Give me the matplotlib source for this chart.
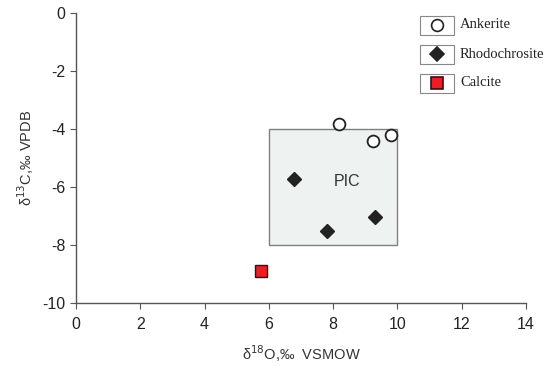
import matplotlib
matplotlib.use("Agg")
import matplotlib.pyplot as plt
from matplotlib.patches import Rectangle

ankerite_x = [8.17, 9.23, 9.81]
ankerite_y = [-3.83, -4.40, -4.20]
rhodo_x = [6.79, 7.81, 9.30]
rhodo_y = [-5.72, -7.50, -7.02]
calcite_x = [5.77]
calcite_y = [-8.89]
pic_box = (6.0, -8.0, 10.0, -4.0)  # x0, y0, x1, y1
xticks = [0, 2, 4, 6, 8, 10, 12, 14]
yticks = [0, -2, -4, -6, -8, -10]

plt.rcParams['font.family'] = ['Liberation Sans', 'DejaVu Sans']
fig = plt.figure(figsize=(5.5, 3.74), dpi=100)
ax = fig.add_axes([76/550, 1-303/374, 450/550, 290/374])

ax.add_patch(Rectangle((pic_box[0], pic_box[1]), pic_box[2]-pic_box[0], pic_box[3]-pic_box[1],
                       facecolor='#eef2f1', edgecolor='#808080', lw=1.0, zorder=1))
ax.text(8.42, -5.82, 'PIC', fontsize=11.5, ha='center', va='center', color='#333333', zorder=2)

ax.plot(ankerite_x, ankerite_y, 'o', ms=8.5, mfc='white', mec='#222222', mew=1.3, ls='none', zorder=3, clip_on=False)
ax.plot(rhodo_x, rhodo_y, 'D', ms=7, mfc='#222222', mec='#222222', ls='none', zorder=3)
ax.plot(calcite_x, calcite_y, 's', ms=8.5, mfc='#ee1c24', mec='#3a1010', mew=1.0, ls='none', zorder=3)

ax.set_xlim(0, 14)
ax.set_ylim(-10, 0)
ax.set_xticks(xticks)
ax.set_yticks(yticks)
ax.set_xticklabels([str(v) for v in xticks])
ax.set_yticklabels([str(v) for v in yticks])
for s in ['top', 'right']:
    ax.spines[s].set_visible(False)
for s in ['left', 'bottom']:
    ax.spines[s].set_color('#555555')
    ax.spines[s].set_linewidth(1.0)
ax.tick_params(direction='out', length=4, width=0.8, color='#555555', labelsize=11.5, labelcolor='#222222')
ax.tick_params(axis='x', pad=6)

ax.set_xlabel('δ$^{18}$O,‰  VSMOW', fontsize=10.5, color='#333333', labelpad=8)
ax.set_ylabel('δ$^{13}$C,‰ VPDB', fontsize=10.5, color='#333333', labelpad=5)

# manual legend
leg_items = [('Ankerite', 'o', 'white', '#222222'),
             ('Rhodochrosite', 'D', '#222222', '#222222'),
             ('Calcite', 's', '#ee1c24', '#3a1010')]
ys = [25, 54, 83]
for (lab, m, fc, ec), yp in zip(leg_items, ys):
    fy = 1 - yp/374
    fig.patches.append(Rectangle((420/550, fy - 9.5/374), 34/550, 19/374, transform=fig.transFigure,
                                 facecolor='white', edgecolor='#888888', lw=0.8))
    fig.lines.append(plt.Line2D([437/550], [fy], marker=m, ms=8.5 if m != 'D' else 7.5, mfc=fc, mec=ec,
                                mew=1.2, transform=fig.transFigure))
    fig.text(460/550, fy, lab, family='Liberation Serif', fontsize=10.5, va='center', color='#222222')

fig.savefig('out.png', dpi=100)
